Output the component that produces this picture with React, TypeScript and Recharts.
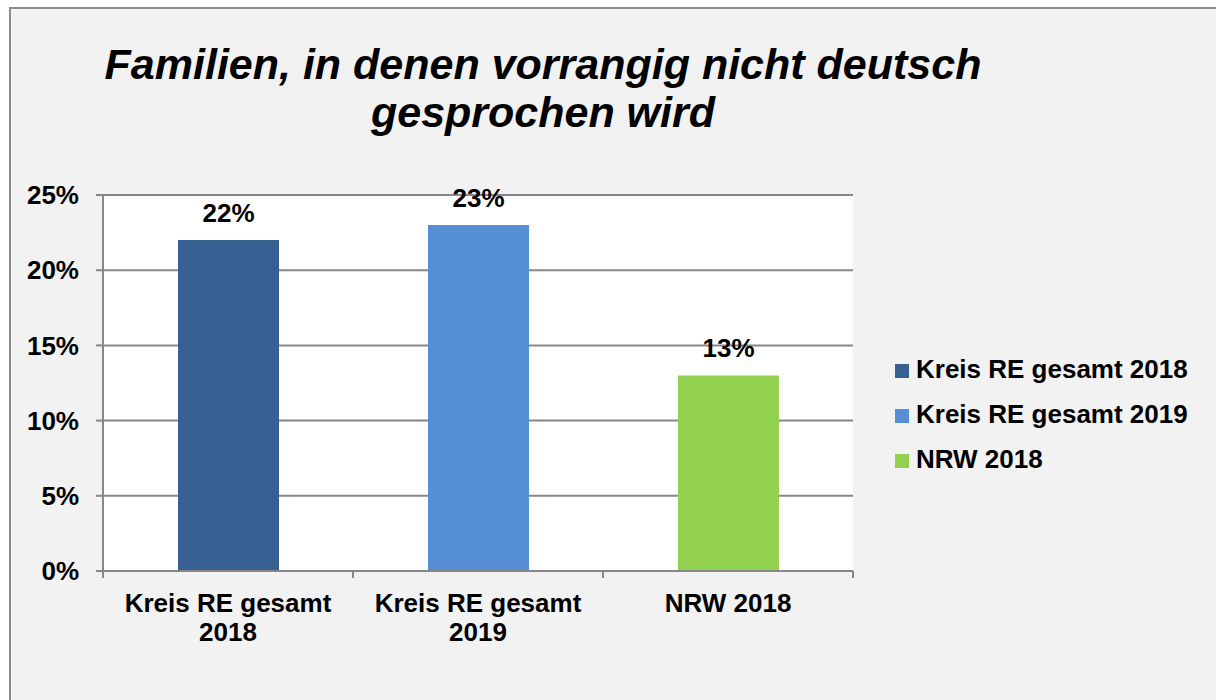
import React from 'react';
import { BarChart, Bar, XAxis, YAxis, CartesianGrid, Legend, LabelList } from 'recharts';

const categories = ['Kreis RE gesamt 2018', 'Kreis RE gesamt 2019', 'NRW 2018'];
const seriesNames = ['Kreis RE gesamt 2018', 'Kreis RE gesamt 2019', 'NRW 2018'];
const seriesKeys = ['s0', 's1', 's2'];
const values = [22, 23, 13];
const colors = ['#376092', '#558ED5', '#92D050'];
const yTicks = [0, 5, 10, 15, 20, 25];

const FONT = '"Liberation Sans", Arial, Helvetica, sans-serif';
const GRID = '#878787';

// one row per category, each series only filled in its own category (stacked -> centered bars)
const data = categories.map((cat, i) => {
    const row: Record<string, any> = { category: cat };
    seriesKeys.forEach((k, j) => { row[k] = i === j ? values[i] : null; });
    return row;
});

const CategoryTick = (props: any) => {
    const { x, y, payload } = props;
    const half = payload?.offset ?? 125;
    const label: string = payload.value;
    const cut = label.lastIndexOf(' ');
    const lines = label.length > 12 && cut > 0 ? [label.slice(0, cut), label.slice(cut + 1)] : [label];
    return (
        <g>
            <line x1={x - half} x2={x - half} y1={y} y2={y + 7} stroke={GRID} strokeWidth={2} />
            <line x1={x + half} x2={x + half} y1={y} y2={y + 7} stroke={GRID} strokeWidth={2} />
            {lines.map((ln, i) => (
                <text key={i} x={x} y={y + 41 + i * 29} textAnchor="middle"
                    style={{ fontFamily: FONT, fontSize: 26, fontWeight: 700, fill: '#000' }}>
                    {ln}
                </text>
            ))}
        </g>
    );
};

const renderValueLabel = (p: any) => {
    const v = Array.isArray(p.value) ? p.value[1] - p.value[0] : p.value;
    if (v === null || v === undefined || v === 0 || !p.height) return null;
    return (
        <text x={p.x + p.width / 2} y={p.y - 18} textAnchor="middle"
            style={{ fontFamily: FONT, fontSize: 26, fontWeight: 700, fill: '#000' }}>
            {`${v}%`}
        </text>
    );
};

const renderLegend = (props: any) => {
    const { payload } = props;
    return (
        <div style={{ fontFamily: FONT, fontSize: 26, fontWeight: 700, color: '#000' }}>
            {(payload || []).map((entry: any, i: number) => (
                <div key={i} style={{ height: 45, lineHeight: '45px', whiteSpace: 'nowrap' }}>
                    <span style={{ display: 'inline-block', width: 14, height: 14, background: entry.color, marginRight: 7, verticalAlign: 'baseline' }} />
                    {entry.value}
                </div>
            ))}
        </div>
    );
};

export default function App() {
    return (
        <div style={{ position: 'absolute', left: 0, top: 0, width: 1216, height: 700, overflow: 'hidden', background: '#fff', fontFamily: FONT }}>
            <div style={{ position: 'absolute', left: 9, top: 7, width: 1300, height: 800, background: '#f2f2f2', border: '2px solid #8c8c8c' }} />
            <div style={{
                position: 'absolute', left: 43, top: 40, width: 1000, textAlign: 'center',
                fontSize: 43, lineHeight: '48px', fontWeight: 700, fontStyle: 'italic', color: '#000',
            }}>
                Familien, in denen vorrangig nicht deutsch<br />gesprochen wird
            </div>
            <div style={{ position: 'absolute', left: 0, top: 0 }}>
                <BarChart width={1216} height={700} data={data} margin={{ top: 195, right: 363, bottom: 69, left: 23 }}>
                    <CartesianGrid vertical={false} fill="#fff" stroke={GRID} strokeWidth={2} />
                    <XAxis
                        dataKey="category"
                        height={60}
                        axisLine={{ stroke: GRID, strokeWidth: 2 }}
                        tickLine={false}
                        tickSize={0}
                        tickMargin={0}
                        interval={0}
                        tick={<CategoryTick />}
                    />
                    <YAxis
                        width={80}
                        domain={[0, 25]}
                        ticks={yTicks}
                        interval={0}
                        tickFormatter={(v) => `${v}%`}
                        axisLine={{ stroke: GRID, strokeWidth: 2 }}
                        tickLine={{ stroke: GRID, strokeWidth: 2 }}
                        tickSize={7}
                        tickMargin={17}
                        tick={{ fill: '#000', fontSize: 26, fontWeight: 700, fontFamily: FONT }}
                    />
                    <Legend
                        layout="vertical"
                        align="center"
                        verticalAlign="middle"
                        wrapperStyle={{ left: 895, top: 347, width: 320 }}
                        content={renderLegend}
                    />
                    {seriesKeys.map((k, j) => (
                        <Bar key={k} dataKey={k} name={seriesNames[j]} stackId="a" fill={colors[j]} barSize={101} isAnimationActive={false}>
                            <LabelList dataKey={k} content={renderValueLabel} />
                        </Bar>
                    ))}
                </BarChart>
            </div>
        </div>
    );
}
